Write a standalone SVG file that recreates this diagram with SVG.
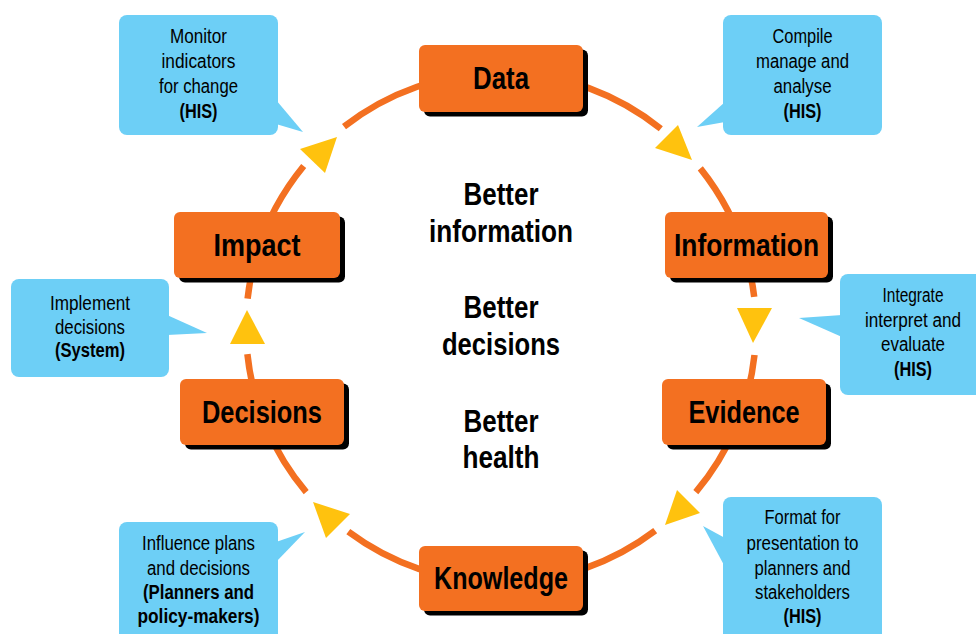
<svg xmlns="http://www.w3.org/2000/svg" width="976" height="634" viewBox="0 0 976 634">
<style>
.ring{fill:none;stroke:#F37021;stroke-width:6.5}
.tri{fill:#FFC20E}
.box{fill:#F37021}
.shadow{fill:#000}
.call{fill:#6DCFF6}
.node,.ctr{font-family:"Liberation Sans",Arial,sans-serif;font-weight:bold;font-size:30.5px;fill:#000;text-anchor:middle}
.ct{font-family:"Liberation Sans",Arial,sans-serif;font-size:19.5px;fill:#000;text-anchor:middle}
.b{font-weight:bold}
</style>
<rect width="976" height="634" fill="#fff"/>
<g id="connectors">
<path class="ring" d="M344.0 126.6 A255 255 0 0 1 660.8 128.8"/>
<path class="ring" d="M700.3 168.4 A255 255 0 0 1 754.2 296.9"/>
<path class="ring" d="M754.5 355.0 A255 255 0 0 1 695.8 492.1"/>
<path class="ring" d="M655.2 530.6 A255 255 0 0 1 348.3 531.7"/>
<path class="ring" d="M306.2 492.1 A255 255 0 0 1 247.4 354.1"/>
<path class="ring" d="M247.6 298.6 A255 255 0 0 1 303.7 166.0"/>
<polygon class="tri" points="655,148 678,125 692,160"/>
<polygon class="tri" points="737,308 772,308 753,343"/>
<polygon class="tri" points="677,490 700,513 665,525"/>
<polygon class="tri" points="313,502 350,514 326,538"/>
<polygon class="tri" points="230,344 265,344 247,310"/>
<polygon class="tri" points="300,149 337,137 325,173"/>
</g>
<g id="node-data">
<rect class="shadow" x="424" y="49.5" width="164" height="67" rx="6"/>
<rect class="box" x="419" y="45" width="164" height="67" rx="6"/>
<text class="node" x="501" y="89" textLength="56" lengthAdjust="spacingAndGlyphs">Data</text>
</g>
<g id="node-information">
<rect class="shadow" x="670" y="216.5" width="163" height="66" rx="6"/>
<rect class="box" x="665" y="212" width="163" height="66" rx="6"/>
<text class="node" x="746.5" y="256" textLength="145" lengthAdjust="spacingAndGlyphs">Information</text>
</g>
<g id="node-evidence">
<rect class="shadow" x="667" y="383.5" width="164" height="66" rx="6"/>
<rect class="box" x="662" y="379" width="164" height="66" rx="6"/>
<text class="node" x="744" y="423" textLength="111" lengthAdjust="spacingAndGlyphs">Evidence</text>
</g>
<g id="node-knowledge">
<rect class="shadow" x="424" y="550.5" width="164" height="65" rx="6"/>
<rect class="box" x="419" y="546" width="164" height="65" rx="6"/>
<text class="node" x="501" y="589" textLength="134" lengthAdjust="spacingAndGlyphs">Knowledge</text>
</g>
<g id="node-decisions">
<rect class="shadow" x="185" y="383.5" width="164" height="66" rx="6"/>
<rect class="box" x="180" y="379" width="164" height="66" rx="6"/>
<text class="node" x="262" y="423" textLength="120" lengthAdjust="spacingAndGlyphs">Decisions</text>
</g>
<g id="node-impact">
<rect class="shadow" x="179" y="216.5" width="166" height="66" rx="6"/>
<rect class="box" x="174" y="212" width="166" height="66" rx="6"/>
<text class="node" x="257" y="256" textLength="87" lengthAdjust="spacingAndGlyphs">Impact</text>
</g>
<g id="center-text">
<text class="ctr" x="501" y="205" textLength="75" lengthAdjust="spacingAndGlyphs">Better</text>
<text class="ctr" x="501" y="242" textLength="144" lengthAdjust="spacingAndGlyphs">information</text>
<text class="ctr" x="501" y="318" textLength="75" lengthAdjust="spacingAndGlyphs">Better</text>
<text class="ctr" x="501" y="355" textLength="118" lengthAdjust="spacingAndGlyphs">decisions</text>
<text class="ctr" x="501" y="432" textLength="75" lengthAdjust="spacingAndGlyphs">Better</text>
<text class="ctr" x="501" y="468" textLength="77" lengthAdjust="spacingAndGlyphs">health</text>
</g>
<g id="callout-monitor">
<rect class="call" x="119" y="15" width="159" height="120" rx="8"/>
<polygon class="call" points="276,100 303,132 276,124"/>
<text class="ct" x="198.5" y="43" textLength="57" lengthAdjust="spacingAndGlyphs">Monitor</text>
<text class="ct" x="198.5" y="68" textLength="74" lengthAdjust="spacingAndGlyphs">indicators</text>
<text class="ct" x="198.5" y="93" textLength="79" lengthAdjust="spacingAndGlyphs">for change</text>
<text class="ct b" x="198.5" y="118" textLength="38" lengthAdjust="spacingAndGlyphs">(HIS)</text>
</g>
<g id="callout-compile">
<rect class="call" x="723" y="15" width="159" height="120" rx="8"/>
<polygon class="call" points="725,102 697,127 725,122"/>
<text class="ct" x="802.5" y="43" textLength="60" lengthAdjust="spacingAndGlyphs">Compile</text>
<text class="ct" x="802.5" y="68" textLength="93" lengthAdjust="spacingAndGlyphs">manage and</text>
<text class="ct" x="802.5" y="93" textLength="58" lengthAdjust="spacingAndGlyphs">analyse</text>
<text class="ct b" x="802.5" y="118" textLength="38" lengthAdjust="spacingAndGlyphs">(HIS)</text>
</g>
<g id="callout-integrate">
<rect class="call" x="840" y="274" width="150" height="121" rx="8"/>
<polygon class="call" points="842,315 799,318 842,337"/>
<text class="ct" x="913" y="302" textLength="61" lengthAdjust="spacingAndGlyphs">Integrate</text>
<text class="ct" x="913" y="327" textLength="96" lengthAdjust="spacingAndGlyphs">interpret and</text>
<text class="ct" x="913" y="351" textLength="64" lengthAdjust="spacingAndGlyphs">evaluate</text>
<text class="ct b" x="913" y="376" textLength="38" lengthAdjust="spacingAndGlyphs">(HIS)</text>
</g>
<g id="callout-format">
<rect class="call" x="723" y="497" width="159" height="150" rx="8"/>
<polygon class="call" points="725,538 703,526 725,567"/>
<text class="ct" x="802.5" y="524" textLength="76" lengthAdjust="spacingAndGlyphs">Format for</text>
<text class="ct" x="802.5" y="550" textLength="112" lengthAdjust="spacingAndGlyphs">presentation to</text>
<text class="ct" x="802.5" y="575" textLength="96" lengthAdjust="spacingAndGlyphs">planners and</text>
<text class="ct" x="802.5" y="599" textLength="95" lengthAdjust="spacingAndGlyphs">stakeholders</text>
<text class="ct b" x="802.5" y="623" textLength="38" lengthAdjust="spacingAndGlyphs">(HIS)</text>
</g>
<g id="callout-influence">
<rect class="call" x="119" y="522" width="159" height="130" rx="8"/>
<polygon class="call" points="276,542 305,532 276,562"/>
<text class="ct" x="198.5" y="550" textLength="113" lengthAdjust="spacingAndGlyphs">Influence plans</text>
<text class="ct" x="198.5" y="575" textLength="103" lengthAdjust="spacingAndGlyphs">and decisions</text>
<text class="ct b" x="198.5" y="599" textLength="111" lengthAdjust="spacingAndGlyphs">(Planners and</text>
<text class="ct b" x="198.5" y="623" textLength="122" lengthAdjust="spacingAndGlyphs">policy-makers)</text>
</g>
<g id="callout-implement">
<rect class="call" x="11" y="279" width="158" height="98" rx="8"/>
<polygon class="call" points="167,315 207,333 167,335"/>
<text class="ct" x="90" y="310" textLength="80" lengthAdjust="spacingAndGlyphs">Implement</text>
<text class="ct" x="90" y="334" textLength="70" lengthAdjust="spacingAndGlyphs">decisions</text>
<text class="ct b" x="90" y="357" textLength="70" lengthAdjust="spacingAndGlyphs">(System)</text>
</g>
</svg>
